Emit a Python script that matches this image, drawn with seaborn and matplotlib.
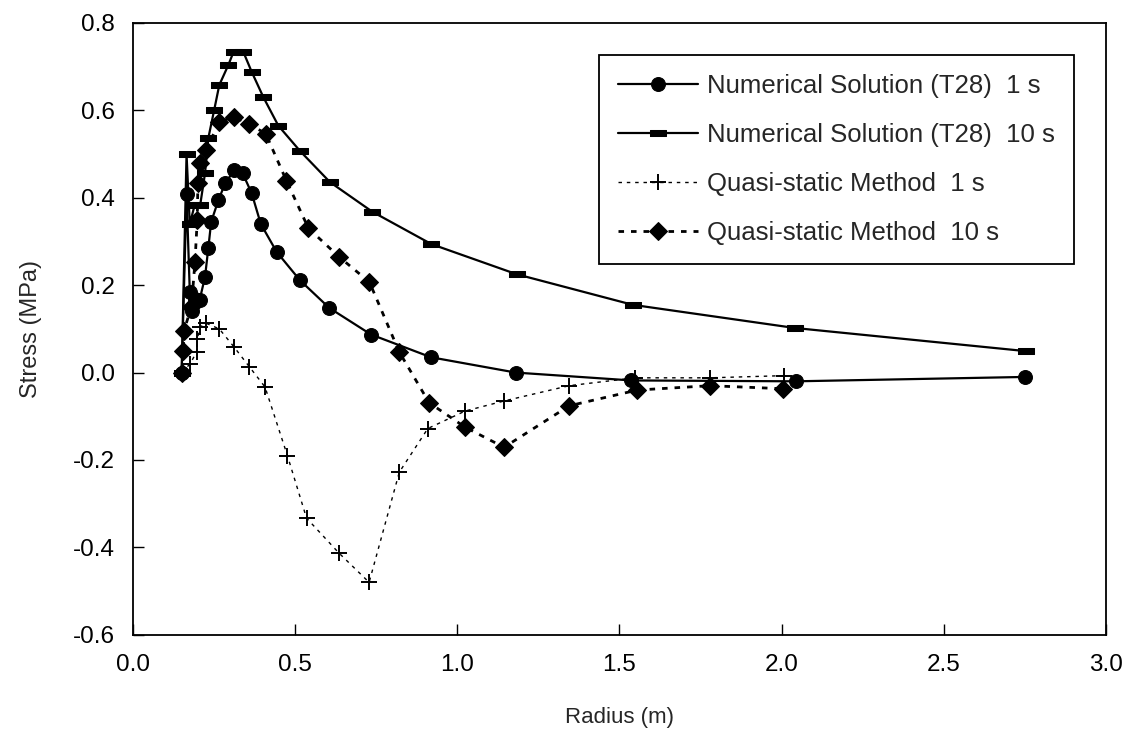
import numpy as np
import pandas as pd
import matplotlib
matplotlib.use("Agg")
import matplotlib.pyplot as plt
import seaborn as sns

# ---- data ----
num1_r = [0.150, 0.165, 0.175, 0.181, 0.191, 0.205, 0.222, 0.232, 0.241, 0.263,
          0.284, 0.312, 0.338, 0.366, 0.394, 0.443, 0.515, 0.605, 0.734, 0.919,
          1.180, 1.537, 2.044, 2.750]
num1_s = [0.000, 0.408, 0.185, 0.142, 0.169, 0.165, 0.219, 0.284, 0.345, 0.394,
          0.433, 0.463, 0.456, 0.410, 0.340, 0.276, 0.211, 0.148, 0.087, 0.035,
          0.000, -0.018, -0.020, -0.010]

num10_r = [0.150, 0.165, 0.175, 0.190, 0.207, 0.222, 0.232, 0.250, 0.266, 0.294,
           0.310, 0.340, 0.366, 0.402, 0.448, 0.515, 0.607, 0.738, 0.920, 1.183,
           1.541, 2.041, 2.754]
num10_s = [0.000, 0.500, 0.340, 0.383, 0.383, 0.456, 0.536, 0.600, 0.658, 0.704,
           0.734, 0.734, 0.688, 0.630, 0.565, 0.507, 0.436, 0.368, 0.294, 0.225,
           0.155, 0.102, 0.049]

qs1_r = [0.150, 0.176, 0.196, 0.198, 0.207, 0.225, 0.266, 0.311, 0.359, 0.407,
         0.476, 0.535, 0.635, 0.728, 0.821, 0.909, 1.024, 1.144, 1.345, 1.548,
         1.779, 2.008]
qs1_s = [0.000, 0.020, 0.047, 0.077, 0.104, 0.113, 0.100, 0.059, 0.013, -0.033,
         -0.190, -0.333, -0.413, -0.480, -0.228, -0.128, -0.088, -0.065, -0.030, -0.012,
         -0.012, -0.007]

qs10_r = [0.150, 0.155, 0.157, 0.180, 0.191, 0.198, 0.200, 0.206, 0.225, 0.266,
          0.312, 0.359, 0.409, 0.473, 0.541, 0.635, 0.729, 0.821, 0.913, 1.024,
          1.144, 1.345, 1.555, 1.779, 2.005]
qs10_s = [0.000, 0.050, 0.096, 0.150, 0.253, 0.349, 0.433, 0.480, 0.509, 0.574,
          0.585, 0.568, 0.547, 0.439, 0.330, 0.265, 0.207, 0.047, -0.069, -0.125,
          -0.171, -0.076, -0.040, -0.030, -0.037]

labels = ["Numerical Solution (T28)  1 s",
          "Numerical Solution (T28)  10 s",
          "Quasi-static Method  1 s",
          "Quasi-static Method  10 s"]

x_ticks = [0.0, 0.5, 1.0, 1.5, 2.0, 2.5, 3.0]
y_ticks = [-0.6, -0.4, -0.2, 0.0, 0.2, 0.4, 0.6, 0.8]

# ---- styling ----
sns.set_style("ticks")
plt.rcParams["font.family"] = ["Liberation Sans", "DejaVu Sans"]

fig = plt.figure(figsize=(11.37, 7.53), dpi=100)
ax = fig.add_axes([0.117, 0.157, 0.8557, 0.8125])

bar_marker = [(-1.0, -0.4), (1.0, -0.4), (1.0, 0.4), (-1.0, 0.4), (-1.0, -0.4)]

series = [
    (num1_r, num1_s, dict(marker="o", markersize=10, linestyle="-", linewidth=1.6,
                          markerfacecolor="black", markeredgecolor="black")),
    (num10_r, num10_s, dict(marker=bar_marker, markersize=11.5, linestyle="-", linewidth=1.6,
                            markerfacecolor="black", markeredgecolor="black")),
    (qs1_r, qs1_s, dict(marker="+", markersize=11, markeredgewidth=1.4,
                        linestyle=(0, (2.5, 3.5)), linewidth=1.0,
                        markeredgecolor="black")),
    (qs10_r, qs10_s, dict(marker="D", markersize=9, linestyle=(0, (2.0, 2.5)), linewidth=2.0,
                          markerfacecolor="black", markeredgecolor="black")),
]

for (r, s, kw), lab in zip(series, labels):
    df = pd.DataFrame({"Radius": r, "Stress": s})
    sns.lineplot(data=df, x="Radius", y="Stress", sort=False, estimator=None,
                 color="black", label=lab, ax=ax, **kw)

ax.set_xlim(0.0, 3.0)
ax.set_ylim(-0.6, 0.8)
ax.set_xticks(x_ticks)
ax.set_yticks(y_ticks)
ax.set_xticklabels([f"{v:.1f}" for v in x_ticks], fontsize=17.5)
ax.set_yticklabels([f"{v:.1f}" for v in y_ticks], fontsize=17.5)
ax.tick_params(direction="in", length=8, width=1.0, colors="black")
ax.tick_params(axis="y", pad=13)
ax.tick_params(axis="x", pad=14)
for sp in ax.spines.values():
    sp.set_visible(True)
    sp.set_linewidth(1.3)
    sp.set_color("black")

ax.set_xlabel("Radius (m)", fontsize=16, labelpad=22)
ax.set_ylabel("Stress (MPa)", fontsize=17, labelpad=22)

leg = ax.legend(loc="upper left", bbox_to_anchor=(0.4789, 0.9476), fontsize=18.5,
                frameon=True, fancybox=False, handlelength=3.1, handletextpad=0.35,
                labelspacing=0.97, borderpad=0.75, borderaxespad=0.0)
leg.get_frame().set_edgecolor("black")
leg.get_frame().set_linewidth(1.3)
leg.get_frame().set_alpha(1.0)

fig.savefig("out.png", dpi=100)
